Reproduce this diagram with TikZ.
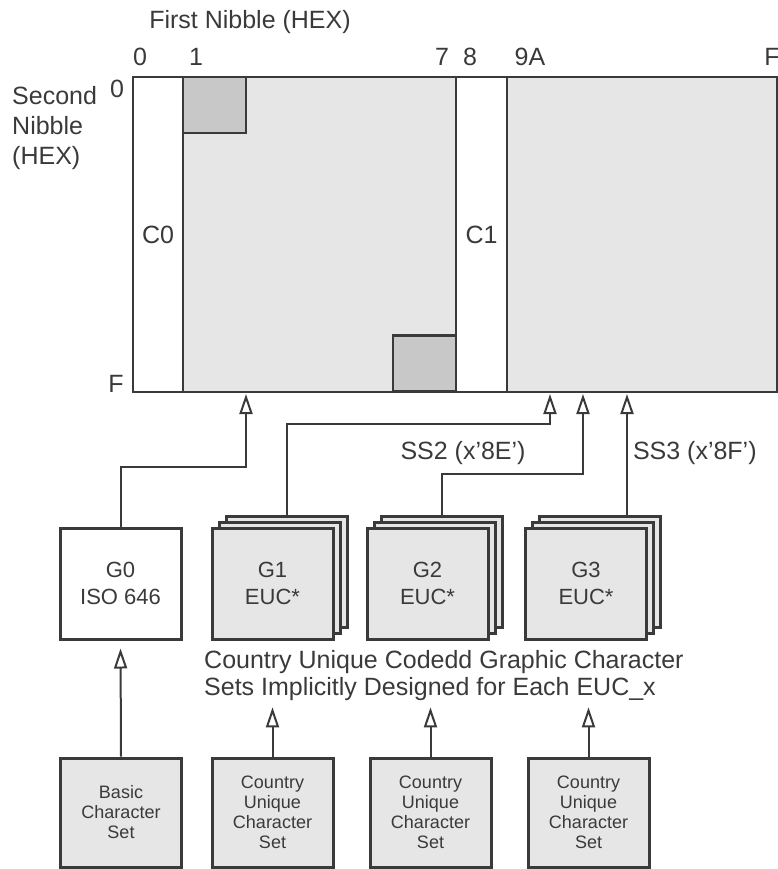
\documentclass[tikz,border=0pt]{standalone}
\usepackage{fontspec}
\setmainfont{Liberation Sans}
\usetikzlibrary{arrows.meta, positioning, calc}
\definecolor{cellgray}{RGB}{230,230,230}
\definecolor{markgray}{RGB}{200,200,200}
\definecolor{inkgray}{RGB}{58,58,58}

\begin{document}
\begin{tikzpicture}[
  x=1pt, y=-1pt,
  font=\fontsize{25}{30}\selectfont, text=inkgray,
  cell/.style={draw=inkgray, line width=2.5pt, fill=cellgray,
               minimum height=315pt, inner sep=0pt},
  markbox/.style={draw=inkgray, line width=2.5pt, fill=markgray,
                  minimum width=63pt, minimum height=56pt, inner sep=0pt},
  setbox/.style={draw=inkgray, line width=3pt, fill=cellgray, align=center,
                 minimum width=121pt, minimum height=111pt, inner sep=0pt,
                 font=\fontsize{22}{27}\selectfont},
  basebox/.style={draw=inkgray, line width=3pt, fill=cellgray, align=center,
                  minimum width=121pt, minimum height=109pt, inner sep=0pt,
                  font=\fontsize{18}{20}\selectfont},
  arr/.style={-{Triangle[open, length=20pt, width=13pt, line width=2pt]},
              line width=2pt, draw=inkgray, shorten >=2pt},
  lbl/.style={inner sep=0pt}
]
\useasboundingbox (0,0) rectangle (778,869);

%% ——— Code table ———
\node[cell, fill=white, minimum width=50pt]  (c0) at (158,234.5)   {C0};
\node[cell, minimum width=273pt]             (gl) at (319.5,234.5) {};
\node[cell, fill=white, minimum width=51pt]  (c1) at (481.5,234.5) {C1};
\node[cell, minimum width=270pt]             (gr) at (642,234.5)   {};
\node[markbox] (mtop) at (214.5,105)   {};
\node[markbox] (mbot) at (424.5,363.5) {};

%% ——— Table labels ———
\node[lbl] (title) at (250,22) {First Nibble (HEX)};
\node[lbl] (h0)  at (140,57) {0};
\node[lbl] (h1)  at (196,57) {1};
\node[lbl] (h7)  at (442,57) {7};
\node[lbl] (h8)  at (470,57) {8};
\node[lbl] (h9a) at (530,57) {9A};
\node[lbl] (hf)  at (772,57) {F};
\node[lbl] (r0)  at (117,89)  {0};
\node[lbl] (rf)  at (116,384) {F};
\node[lbl, anchor=west, align=left] (rows) at (12,128) {Second\\Nibble\\(HEX)};

%% ——— Entry points on the table ———
\coordinate (in0) at (246,392);
\coordinate (in1) at (550,392);
\coordinate (in2) at (583,392);
\coordinate (in3) at (627,392);

%% ——— G0 and the three EUC sets (stacked) ———
\node[setbox, fill=white] (g0) at (120.5,583.5) {G0\\ISO 646};

\node[setbox] (g1c) at (286.5,571.5) {};
\node[setbox] (g1b) at (279.5,577.5) {};
\node[setbox] (g1)  at (272.5,583.5) {G1\\EUC*};

\node[setbox] (g2c) at (441.5,571.5) {};
\node[setbox] (g2b) at (434.5,577.5) {};
\node[setbox] (g2)  at (427.5,583.5) {G2\\EUC*};

\node[setbox] (g3c) at (600,571.5) {};
\node[setbox] (g3b) at (593,577.5) {};
\node[setbox] (g3)  at (586,583.5) {G3\\EUC*};

\node[lbl, anchor=west, align=left, font=\fontsize{25}{27}\selectfont] (note) at (204,676)
  {Country Unique Codedd Graphic Character\\Sets Implicitly Designed for Each EUC\_x};

%% ——— Source character sets ———
\node[basebox] (basic) at (121,812.5)   {Basic\\Character\\Set};
\node[basebox] (cu1)   at (272.5,812.5) {Country\\Unique\\Character\\Set};
\node[basebox] (cu2)   at (430.5,812.5) {Country\\Unique\\Character\\Set};
\node[basebox] (cu3)   at (588.5,812.5) {Country\\Unique\\Character\\Set};

%% ——— Sets → table ———
\draw[arr] (g0.north)  -- ++(0,-60) -| (in0);
\draw[arr] (g1c.north) -- ++(0,-91) -| (in1);
\draw[arr] (g2c.north) -- ++(0,-41)
  -| node[lbl, pos=0, anchor=south west, xshift=-42pt, yshift=8pt]{SS2 (x'8E')} (in2);
\draw[arr] (g3c.north -| in3) -- node[lbl, anchor=west, xshift=5pt]{SS3 (x'8F')} (in3);

%% ——— Sources → sets ———
\draw[arr, shorten >=8pt] (basic.north) -- (g0.south);
\draw[arr, shorten >=6pt] (cu1.north) -- (cu1.north |- note.south);
\draw[arr, shorten >=6pt] (cu2.north) -- (cu2.north |- note.south);
\draw[arr, shorten >=6pt] (cu3.north) -- (cu3.north |- note.south);

\end{tikzpicture}
\end{document}
